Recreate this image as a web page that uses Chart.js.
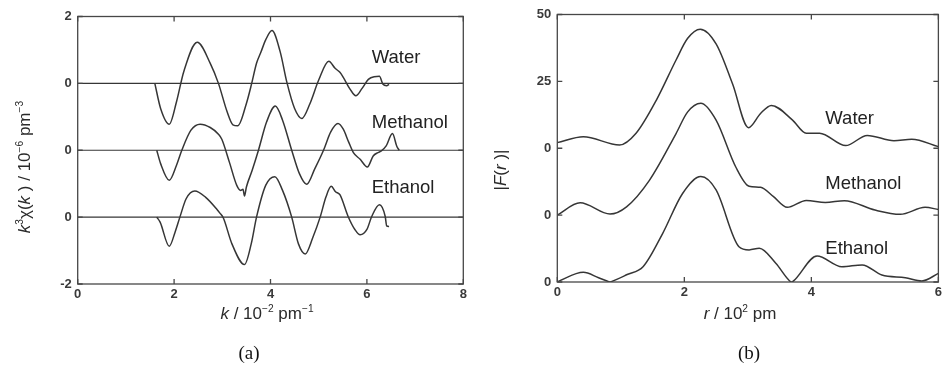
<!DOCTYPE html>
<html>
<head>
<meta charset="utf-8">
<script src="https://cdn.jsdelivr.net/npm/chart.js@4.4.0/dist/chart.umd.min.js"></script>
<style>
  html, body { margin: 0; padding: 0; background: #fff; }
  #wrap { position: relative; width: 945px; height: 366px; }
  canvas { position: absolute; top: 0; }
</style>
</head>
<body>
<div id="wrap">
  <canvas id="chartA" width="472" height="366" style="left:0"></canvas>
  <canvas id="chartB" width="473" height="366" style="left:472px"></canvas>
</div>
<script>
// ---- panel (a): k^3 chi(k), curves stacked with offsets ----
const kWater = [1.60, 1.72, 1.90, 2.05, 2.20, 2.48, 2.75, 2.92, 3.10, 3.22, 3.32, 3.50, 3.61, 3.71, 3.80, 3.90, 4.03, 4.20, 4.34, 4.50, 4.65, 4.82, 5.00, 5.21, 5.34, 5.44, 5.51, 5.65, 5.77, 5.90, 6.03, 6.15, 6.26, 6.33, 6.41, 6.46];
const chiWater = [0, -0.75, -1.22, -0.55, 0.35, 1.23, 0.6, 0, -0.85, -1.24, -1.27, -0.6, 0, 0.6, 0.93, 1.3, 1.58, 0.95, 0.03, -0.75, -1.05, -0.6, 0.1, 0.66, 0.45, 0.33, 0.18, -0.17, -0.37, -0.15, 0.12, 0.2, 0.21, -0.02, -0.07, -0.03];

const kMethanol = [1.64, 1.72, 1.90, 2.05, 2.16, 2.35, 2.54, 2.75, 2.92, 2.99, 3.15, 3.30, 3.38, 3.43, 3.46, 3.50, 3.62, 3.75, 3.92, 4.10, 4.25, 4.44, 4.60, 4.75, 4.92, 5.10, 5.25, 5.40, 5.51, 5.62, 5.72, 5.86, 6.01, 6.13, 6.23, 6.30, 6.40, 6.53, 6.62, 6.67];
const chiMethanol = [0, -0.4, -0.9, -0.45, 0, 0.6, 0.78, 0.68, 0.48, 0.33, -0.37, -1.05, -1.2, -1.17, -1.37, -1.1, -0.6, 0, 0.85, 1.32, 0.9, 0, -0.7, -1.02, -0.55, 0, 0.55, 0.8, 0.63, 0.25, -0.07, -0.27, -0.5, -0.17, -0.07, -0.02, 0.13, 0.5, 0.12, 0];

const kEthanol = [1.64, 1.71, 1.90, 2.02, 2.12, 2.25, 2.43, 2.65, 2.89, 2.95, 3.02, 3.20, 3.46, 3.60, 3.71, 3.90, 4.09, 4.25, 4.44, 4.58, 4.72, 4.88, 5.03, 5.15, 5.26, 5.35, 5.44, 5.61, 5.75, 5.86, 6.00, 6.10, 6.26, 6.38, 6.41, 6.46];
const chiEthanol = [0, -0.15, -0.87, -0.45, 0, 0.55, 0.78, 0.6, 0.23, 0.12, -0.02, -0.8, -1.42, -0.8, 0, 0.95, 1.21, 0.8, 0, -0.8, -1.1, -0.6, 0, 0.6, 0.92, 0.76, 0.67, 0.02, -0.37, -0.53, -0.37, 0.02, 0.37, 0.02, -0.26, -0.28];

const chiOffsets = [4, 2, 0];          // Water, Methanol, Ethanol
const chiTickValues = [-2, 0, 2, 4, 6];
const chiTickLabels = ['-2', '0', '0', '0', '2'];

// ---- panel (b): |F(r)| ----
const rWater = [0, 0.41, 0.98, 1.24, 1.56, 1.87, 2.05, 2.25, 2.50, 2.76, 3.01, 3.20, 3.37, 3.70, 3.92, 4.13, 4.54, 4.88, 5.30, 5.58, 6.0];
const fWater = [2.1, 4.3, 1.2, 5.6, 18, 33, 41, 44.5, 39, 24, 7.7, 13, 16, 10.6, 5.6, 5.6, 1.0, 4.8, 2.8, 3.4, 0.6];

const rMethanol = [0, 0.36, 0.83, 1.09, 1.45, 1.87, 2.05, 2.26, 2.50, 2.81, 3.02, 3.20, 3.40, 3.62, 3.92, 4.22, 4.52, 5.0, 5.40, 5.79, 6.0];
const fMethanol = [0, 4.6, 0.4, 3.1, 13, 30.5, 38.5, 41.8, 35.5, 18, 10.8, 10.4, 7, 2.9, 5.5, 4.7, 5.4, 1.9, 0.3, 2.9, 2.1];

const rEthanol = [0, 0.41, 0.65, 0.81, 0.83, 0.85, 1.10, 1.35, 1.66, 1.97, 2.26, 2.50, 2.86, 3.02, 3.18, 3.44, 3.67, 3.69, 3.71, 4.09, 4.48, 4.80, 5.11, 5.48, 5.74, 6.0];
const fEthanol = [0.1, 3.6, 1.6, 0.15, 0, 0.15, 2.8, 5.7, 18.2, 33, 39.4, 34.4, 13.2, 12, 12.6, 7, 0.15, 0, 0.2, 9.7, 5.7, 6.4, 2.6, 1.6, 0.4, 3.2];

const fOffsets = [50, 25, 0];
const fTickValues = [0, 25, 50, 75, 100];
const fTickLabels = ['0', '0', '0', '25', '50'];

const curveNames = ['Water', 'Methanol', 'Ethanol'];

const INK = '#363636';
const SANS = '"Liberation Sans", Arial, Helvetica, sans-serif';

function toPoints(xs, ys, off) {
    return xs.map((x, i) => ({ x: x, y: ys[i] + off }));
}

function curve(points) {
    return {
        data: points,
        showLine: true,
        borderColor: INK,
        borderWidth: 1.5,
        pointRadius: 0,
        cubicInterpolationMode: 'monotone',
        fill: false
    };
}

// rich text: parts = [[text, style]], style '' | 'i' (italic) | 's' (superscript)
function drawRich(ctx, parts, x, y, size, align) {
    const fontFor = st => (st === 'i' ? 'italic ' : '') + (st === 's' ? size * 0.6 : size) + 'px ' + SANS;
    let w = 0;
    parts.forEach(([t, st]) => { ctx.font = fontFor(st); w += ctx.measureText(t).width; });
    let cx = align === 'center' ? x - w / 2 : x;
    ctx.textAlign = 'left';
    ctx.textBaseline = 'alphabetic';
    parts.forEach(([t, st]) => {
        ctx.font = fontFor(st);
        ctx.fillText(t, cx, st === 's' ? y - size * 0.4 : y);
        cx += ctx.measureText(t).width;
    });
}

// frame, inward ticks, curve names and titles
function decorPlugin(cfg) {
    return {
        id: 'decor',
        afterDraw(chart) {
            const ctx = chart.ctx;
            const a = chart.chartArea;
            const xs = chart.scales.x, ys = chart.scales.y;
            ctx.save();
            ctx.strokeStyle = '#474747';
            ctx.lineWidth = 1.3;
            ctx.strokeRect(a.left, a.top, a.right - a.left, a.bottom - a.top);
            ctx.beginPath();
            xs.ticks.forEach(t => {
                const px = xs.getPixelForValue(t.value);
                ctx.moveTo(px, a.bottom); ctx.lineTo(px, a.bottom - 5);
                ctx.moveTo(px, a.top); ctx.lineTo(px, a.top + 5);
            });
            ys.ticks.forEach(t => {
                const py = ys.getPixelForValue(t.value);
                ctx.moveTo(a.left, py); ctx.lineTo(a.left + 5, py);
                ctx.moveTo(a.right, py); ctx.lineTo(a.right - 5, py);
            });
            ctx.stroke();

            ctx.fillStyle = '#222';
            ctx.font = '18.5px ' + SANS;
            ctx.textAlign = 'left';
            ctx.textBaseline = 'alphabetic';
            cfg.names.forEach((n, i) => {
                ctx.fillText(n, xs.getPixelForValue(cfg.nameX), ys.getPixelForValue(cfg.nameY[i]));
            });

            ctx.fillStyle = '#2a2a2a';
            drawRich(ctx, cfg.xTitle, cfg.xTitlePos[0], cfg.xTitlePos[1], 17, 'center');
            ctx.save();
            ctx.translate(cfg.yTitlePos[0], cfg.yTitlePos[1]);
            ctx.rotate(-Math.PI / 2);
            drawRich(ctx, cfg.yTitle, 0, 0, 17, 'center');
            ctx.restore();

            ctx.font = '19px "Liberation Serif", "Times New Roman", serif';
            ctx.textAlign = 'center';
            ctx.fillStyle = '#111';
            ctx.fillText(cfg.caption, cfg.captionPos[0], cfg.captionPos[1]);
            ctx.restore();
        }
    };
}

function axisOpts(min, max, step, labels, values, pad, fit) {
    return {
        type: 'linear', min: min, max: max,
        ticks: {
            stepSize: step, padding: pad, color: '#3a3a3a',
            font: { family: SANS, size: 13, weight: 'bold' },
            autoSkip: false, maxRotation: 0,
            callback: v => {
                if (!labels) return v;
                const i = values.indexOf(v);
                return i >= 0 ? labels[i] : '';
            }
        },
        grid: { display: false, drawTicks: false },
        border: { display: false },
        afterFit: fit
    };
}

const baseOptions = (padding, xAxis, yAxis) => ({
    responsive: false,
    animation: false,
    devicePixelRatio: 1,
    layout: { padding: padding },
    plugins: { legend: { display: false }, tooltip: { enabled: false } },
    scales: { x: xAxis, y: yAxis }
});

// panel (a)
const chiSets = [
    [kWater, chiWater], [kMethanol, chiMethanol], [kEthanol, chiEthanol]
];
const baselines = chiOffsets.map(off => Object.assign(curve([{ x: 0, y: off }, { x: 8, y: off }]), { borderWidth: 1.2 }));
new Chart(document.getElementById('chartA'), {
    type: 'scatter',
    data: {
        datasets: baselines.concat(chiSets.map((s, i) => curve(toPoints(s[0], s[1], chiOffsets[i]))))
    },
    options: baseOptions(
        { left: 37.7, right: 8.7, top: 16.5, bottom: 62 },
        axisOpts(0, 8, 2, null, null, 3, s => { s.height = 20; }),
        axisOpts(-2, 6, 2, chiTickLabels, chiTickValues, 6, s => { s.width = 40; })
    ),
    plugins: [decorPlugin({
        names: curveNames, nameX: 6.1, nameY: [4.62, 2.67, 0.71],
        xTitle: [['k', 'i'], [' / 10', ''], ['\u22122', 's'], [' pm', ''], ['\u22121', 's']],
        xTitlePos: [267, 319],
        yTitle: [['k', 'i'], ['3', 's'], ['\u03c7(', ''], ['k', 'i'], [' ) / 10', ''], ['\u22126', 's'], [' pm', ''], ['\u22123', 's']],
        yTitlePos: [30, 167],
        caption: '(a)', captionPos: [249, 359]
    })]
});

// panel (b)
const fSets = [
    [rWater, fWater], [rMethanol, fMethanol], [rEthanol, fEthanol]
];
new Chart(document.getElementById('chartB'), {
    type: 'scatter',
    data: {
        datasets: fSets.map((s, i) => curve(toPoints(s[0], s[1], fOffsets[i])))
    },
    options: baseOptions(
        { left: 45.3, right: 5, top: 14.5, bottom: 64 },
        axisOpts(0, 6, 2, null, null, 3, s => { s.height = 20; }),
        axisOpts(0, 100, 25, fTickLabels, fTickValues, 6, s => { s.width = 40; })
    ),
    plugins: [decorPlugin({
        names: curveNames, nameX: 4.22, nameY: [59, 34.6, 10.5],
        xTitle: [['r', 'i'], [' / 10', ''], ['2', 's'], [' pm', '']],
        xTitlePos: [268, 319],
        yTitle: [['|', ''], ['F', 'i'], ['(', ''], ['r', 'i'], [' )|', '']],
        yTitlePos: [34, 170],
        caption: '(b)', captionPos: [277, 359]
    })]
});
</script>
</body>
</html>
